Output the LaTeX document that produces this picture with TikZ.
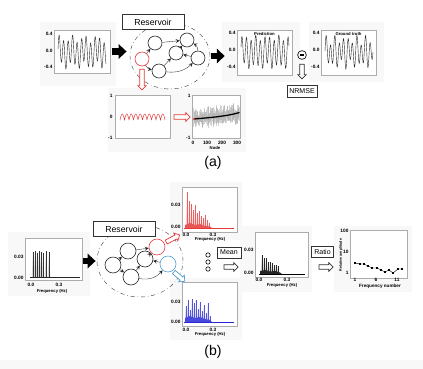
\documentclass[tikz,border=0pt]{standalone}
\usepackage{fontspec}
\setmainfont{Liberation Sans}
\usetikzlibrary{arrows.meta,shapes.arrows,shapes.geometric,plotmarks}
\definecolor{resred}{RGB}{228,58,58}
\definecolor{resblue}{RGB}{80,155,210}
\definecolor{specblue}{RGB}{40,40,215}
\definecolor{bgpanel}{gray}{0.972}

\tikzset{
  panel/.style={draw=gray!65, fill=white, line width=0.35pt, inner sep=0pt},
  backdrop/.style={fill=bgpanel, draw=none},
  tick/.style={font=\fontsize{3.4}{3.8}\selectfont\bfseries, inner sep=0.2pt},
  ptitle/.style={font=\fontsize{3}{3.4}\selectfont\bfseries, inner sep=0.2pt},
  labelbox/.style={draw=gray!40!black, fill=white, line width=0.5pt, inner sep=0pt},
  rnode/.style={circle, draw=gray!25!black, line width=0.42pt, inner sep=0pt, minimum size=3.5mm},
  rnodeb/.style={rnode, minimum size=4mm},
  link/.style={line width=0.25pt, draw=gray!30!black, ->, >=stealth},
  bigarr/.style={line width=1.6mm, -{Triangle[length=2mm,width=3.6mm]}},
  hollow/.style={single arrow, draw, fill=white, line width=0.5pt, inner sep=0.45mm, single arrow head extend=0.55mm},
  resv/.style={ellipse, draw=gray!50!black, dash dot, line width=0.3pt, inner sep=0pt},
}

\begin{document}
\begin{tikzpicture}[x=0.25mm, y=-0.25mm]
\useasboundingbox (0,0) rectangle (423,369);

% grey plot backdrops
\fill[backdrop] (40,22) rectangle (116,86);
\fill[backdrop] (222,22) rectangle (300,82);
\fill[backdrop] (309,22) rectangle (384,82);
\fill[backdrop] (108,88) rectangle (246,152);
\fill[backdrop] (8,232) rectangle (90,296);
\fill[backdrop] (170,182) rectangle (242,240);
\fill[backdrop] (170,278) rectangle (242,340);
\fill[backdrop] (240,226) rectangle (312,292);
\fill[backdrop] (334,226) rectangle (412,292);
\fill[backdrop] (0,360) rectangle (423,369);

%%%%% (a)
\node[panel, minimum width=14mm, minimum height=10.75mm] (inA) at (82,51.5) {};
\node[tick, anchor=east] at (53,34) {0.4};
\node[tick, anchor=east] at (53,51) {0.0};
\node[tick, anchor=east] at (53,67) {-0.4};
\draw[gray!35!black, line width=0.3pt] plot[domain=0:48, samples=220] (58+\x, {52-13*sin(80*\x)-4*sin(29*\x+40)});

\node[resv, minimum width=20mm, minimum height=16.5mm] (resA) at (170,56) {};
\node[labelbox, font=\fontsize{6.2}{7}\selectfont, minimum width=15.5mm, minimum height=3.6mm] (boxA) at (153,22) {Reservoir};
\node[rnode, draw=resred] (ar) at (142,59) {};
\node[rnode] (a1) at (155,43) {};
\node[rnode] (a2) at (187,40) {};
\node[rnode] (a3) at (176,53) {};
\node[rnode] (a4) at (198,58) {};
\node[rnode] (a5) at (159,71) {};
\draw[link] (ar) -- (a1);
\draw[link] (a1) -- (a2);
\draw[link] (ar) to[bend right=25] (a5);
\draw[link] (a5) -- (a3);
\draw[link] (a3) -- (a2);
\draw[link] (a4) to[bend right=30] (a2);
\draw[link] (a4) -- (a3);
\draw[link] (a5) to[bend right=25] (a4);

\node[panel, minimum width=13.75mm, minimum height=11.25mm] (predA) at (264.5,52.5) {};
\node[ptitle] at (264.5,34) {Prediction};
\node[tick, anchor=east] at (236,33) {0.4};
\node[tick, anchor=east] at (236,50) {0.0};
\node[tick, anchor=east] at (236,67) {-0.4};
\draw[gray!35!black, line width=0.3pt] plot[domain=0:48, samples=220] (241+\x, {52-14*sin(78*\x+20)-3*sin(31*\x)});

\draw[bigarr, shorten <=0.5mm, shorten >=0.8mm] (inA.east) -- (inA.east -| resA.west);
\draw[bigarr, shorten <=0.3mm, shorten >=3mm] (resA.east) -- (resA.east -| predA.west);

\node[panel, minimum width=13.75mm, minimum height=11.25mm] (truthA) at (348.5,52.5) {};
\node[ptitle] at (348.5,34) {Ground truth};
\node[tick, anchor=east] at (320,33) {0.4};
\node[tick, anchor=east] at (320,50) {0.0};
\node[tick, anchor=east] at (320,67) {-0.4};
\draw[gray!35!black, line width=0.3pt] plot[domain=0:48, samples=220] (325+\x, {52-12*sin(82*\x)-5*sin(47*\x+10)});

\node[circle, draw, line width=0.45pt, minimum size=2.2mm, inner sep=0pt] (minus) at (302,55) {};
\draw[line width=0.35mm] ([xshift=-0.6mm]minus.center) -- ([xshift=0.6mm]minus.center);
\node[hollow, draw=gray!40!black, rotate=-90, minimum height=3.7mm] (dnN) at (302,70.5) {};
\node[labelbox, font=\fontsize{5}{6}\selectfont, minimum width=7.5mm, minimum height=3mm] (nrmse) at (302,91) {NRMSE};

\node[hollow, draw=resred, rotate=-90, minimum height=5.2mm] (dnA) at (142,78.5) {};
\node[panel, minimum width=13.75mm, minimum height=10.75mm] (redA) at (142.5,116.5) {};
\node[tick, anchor=east] at (113,96) {1};
\node[tick, anchor=east] at (113,117) {0};
\node[tick, anchor=east] at (113,138) {-1};
\draw[resred, line width=0.35pt] plot[domain=0:45, samples=240] (120+\x, {120-6*abs(sin(40*\x))});
\node[hollow, draw=resred, minimum height=4mm] (rtA) at (181,117) {};

\node[panel, minimum width=12mm, minimum height=10.75mm] (scatA) at (216,116.5) {};
\node[tick, anchor=east] at (191,96) {1};
\node[tick, anchor=east] at (191,138) {-1};
\node[tick] at (193,143) {0};
\node[tick] at (207,143) {100};
\node[tick] at (222,143) {200};
\node[tick] at (237,143) {300};
\node[ptitle] at (215,148) {Node};
\pgfmathsetseed{11}
\foreach \i in {0,...,100} {
  \pgfmathsetmacro{\xx}{193.5+\i*0.455}
  \pgfmathsetmacro{\yy}{119-0.13*(\xx-193.5)}
  \draw[gray!70, line width=0.15pt, opacity=0.5] (\xx,{\yy-2-9*rnd}) -- (\xx,{\yy+2+9*rnd});
}
\draw[line width=0.9pt] (194,119) .. controls (212,117.5) and (228,116) .. (239.5,112.5);
\fill[resred] (194,119) circle[radius=0.3mm];

\node[font=\fontsize{10}{12}\selectfont] (lblA) at (213,163) {(a)};

%%%%% (b)
\node[panel, minimum width=14.25mm, minimum height=10.5mm] (inB) at (53.5,259) {};
\node[tick, anchor=east] at (24,257) {0.03};
\node[tick, anchor=east] at (24,278) {0.00};
\node[tick] at (31,285) {0.0};
\node[tick] at (59,285) {0.3};
\node[ptitle] at (52,291) {Frequency (Hz)};
\foreach \px/\pt in {33/252,35/251,37/253,39/251,41/252,43/253,46/251,49/252} {
  \fill[gray, opacity=0.3] (\px-1.3,277) -- (\px,\pt) -- (\px+1.3,277) -- cycle;
  \draw[gray!40!black, line width=0.25pt] (\px,277) -- (\px,\pt);
}
\draw[gray!30!black, line width=0.3pt] (30,277) -- (80,277);

\node[resv, minimum width=21.5mm, minimum height=18mm] (resB) at (140,261) {};
\node[labelbox, font=\fontsize{6.2}{7}\selectfont, minimum width=15.5mm, minimum height=3.6mm] (boxB) at (124,229) {Reservoir};
\node[rnodeb] (bl) at (113,265) {};
\node[rnodeb] (b1) at (128,251) {};
\node[rnodeb] (b2) at (145,259) {};
\node[rnodeb] (b3) at (131,277) {};
\node[rnodeb, draw=resred] (br) at (157,247) {};
\node[rnodeb, draw=resblue] (bb) at (168,264) {};
\draw[link] (bl) -- (b1);
\draw[link] (b1) -- (br);
\draw[link] (bl) -- (b3);
\draw[link] (b3) -- (b2);
\draw[link] (b2) -- (br);
\draw[link] (bb) -- (b2);
\draw[link] (b3) to[bend right=30] (bb);

\draw[bigarr, shorten <=0.3mm, shorten >=0.3mm] (inB.east |- resB.west) -- (resB.west);

\node[hollow, draw=resred, rotate=28, minimum height=3.8mm] (upB) at (172,239) {};
\node[hollow, draw=resblue, rotate=-40, minimum height=3.6mm] (dnB) at (178.5,276) {};

\node[panel, minimum width=13.75mm, minimum height=11.25mm] (redB) at (209.5,209.5) {};
\node[tick, anchor=east] at (181,205) {0.03};
\node[tick, anchor=east] at (181,227) {0.00};
\node[tick] at (186,235) {0.0};
\node[tick] at (213,235) {0.3};
\node[ptitle] at (210,239.5) {Frequency (Hz)};
\foreach \px/\pt in {187/192,189/201,191/204,193/210,195/205,197/213,199/211,201/216,203/218,205/215,207/220,209/223} {
  \fill[resred, opacity=0.22] (\px-1.2,228) -- (\px,\pt) -- (\px+1.2,228) -- cycle;
  \draw[resred!80, line width=0.25pt] (\px,228) -- (\px,\pt);
}
\fill[resred!85] (185,228) -- (185,225) -- (190,223) -- (195,225) -- (200,224) -- (205,226) -- (210,226.5) -- (212,228) -- cycle;
\draw[resred, line width=0.3pt] (184,228) -- (234,228);

\node[panel, minimum width=13.75mm, minimum height=11mm] (bluB) at (209.5,304) {};
\node[tick, anchor=east] at (181,302) {0.03};
\node[tick, anchor=east] at (181,322) {0.00};
\node[tick] at (186,330) {0.0};
\node[tick] at (213,330) {0.3};
\node[ptitle] at (210,334.5) {Frequency (Hz)};
\foreach \px/\pt in {186/306,188/300,190/310,192/299,194/303,196/300,198/309,200/302,202/311,204/305,206/313,208/303,210/316} {
  \fill[specblue, opacity=0.22] (\px-1.2,322) -- (\px,\pt) -- (\px+1.2,322) -- cycle;
  \draw[specblue!80, line width=0.25pt] (\px,322) -- (\px,\pt);
}
\fill[specblue!85] (185,322) -- (185,318) -- (190,316) -- (195,318) -- (200,317) -- (205,319) -- (210,320) -- (212,322) -- cycle;
\draw[specblue, line width=0.3pt] (184,322) -- (234,322);

\node[circle, draw, line width=0.4pt, minimum size=1.1mm, inner sep=0pt] (dot1) at (208,255) {};
\node[circle, draw, line width=0.4pt, minimum size=1.1mm, inner sep=0pt] (dot2) at (208,262) {};
\node[circle, draw, line width=0.4pt, minimum size=1.1mm, inner sep=0pt] (dot3) at (208,269) {};

\node[labelbox, font=\fontsize{5}{6}\selectfont, minimum width=6mm, minimum height=2.75mm] (meanbox) at (229,252.5) {Mean};
\node[hollow, draw=gray!40!black, minimum height=3.5mm] (rtM) at (230,267) {};

\node[panel, minimum width=13.25mm, minimum height=11.25mm] (meanB) at (281.5,254.5) {};
\node[tick, anchor=east] at (254,250) {0.03};
\node[tick, anchor=east] at (254,273) {0.00};
\node[tick] at (259,280) {0.0};
\node[tick] at (287,280) {0.3};
\node[ptitle] at (282,285) {Frequency (Hz)};
\foreach \px/\pt in {262/255,264/258,266/258,268/262,270/262,272/263,274/265,276/265,278/266} {
  \fill[black, opacity=0.22] (\px-1.2,274) -- (\px,\pt) -- (\px+1.2,274) -- cycle;
  \draw[gray!30!black, line width=0.25pt] (\px,274) -- (\px,\pt);
}
\fill[black!85] (260,274) -- (260,271) -- (265,270) -- (270,271.5) -- (275,271) -- (280,272.5) -- (282,274) -- cycle;
\draw[line width=0.3pt] (259,274) -- (305,274);

\node[labelbox, font=\fontsize{5}{6}\selectfont, minimum width=5.5mm, minimum height=2.75mm] (ratiobox) at (322.5,252) {Ratio};
\node[hollow, draw=gray!40!black, minimum height=3.5mm] (rtR) at (325,267) {};

\node[panel, minimum width=14.25mm, minimum height=12mm] (ratioB) at (378.5,254) {};
\node[tick, anchor=east] at (349,231) {100};
\node[tick, anchor=east] at (349,252) {10};
\node[tick, anchor=east] at (349,273) {1};
\node[ptitle, rotate=90, font=\fontsize{2.6}{3}\selectfont\bfseries] at (341,255) {Relative amplitude};
\node[tick] at (355,280) {1};
\node[tick] at (376,280) {6};
\node[tick] at (397,280) {11};
\node[ptitle, font=\fontsize{3.3}{3.6}\selectfont\bfseries] at (380,286) {Frequency number};
\draw[line width=0.3pt] plot[mark=square*, mark size=0.45pt] coordinates {(355,263) (360,264) (364,264) (368,266) (372,268) (377,268) (381,270) (385,272) (389,270) (393,273) (398,269) (402,269)};

\node[font=\fontsize{10}{12}\selectfont] (lblB) at (213,352) {(b)};
\end{tikzpicture}
\end{document}
